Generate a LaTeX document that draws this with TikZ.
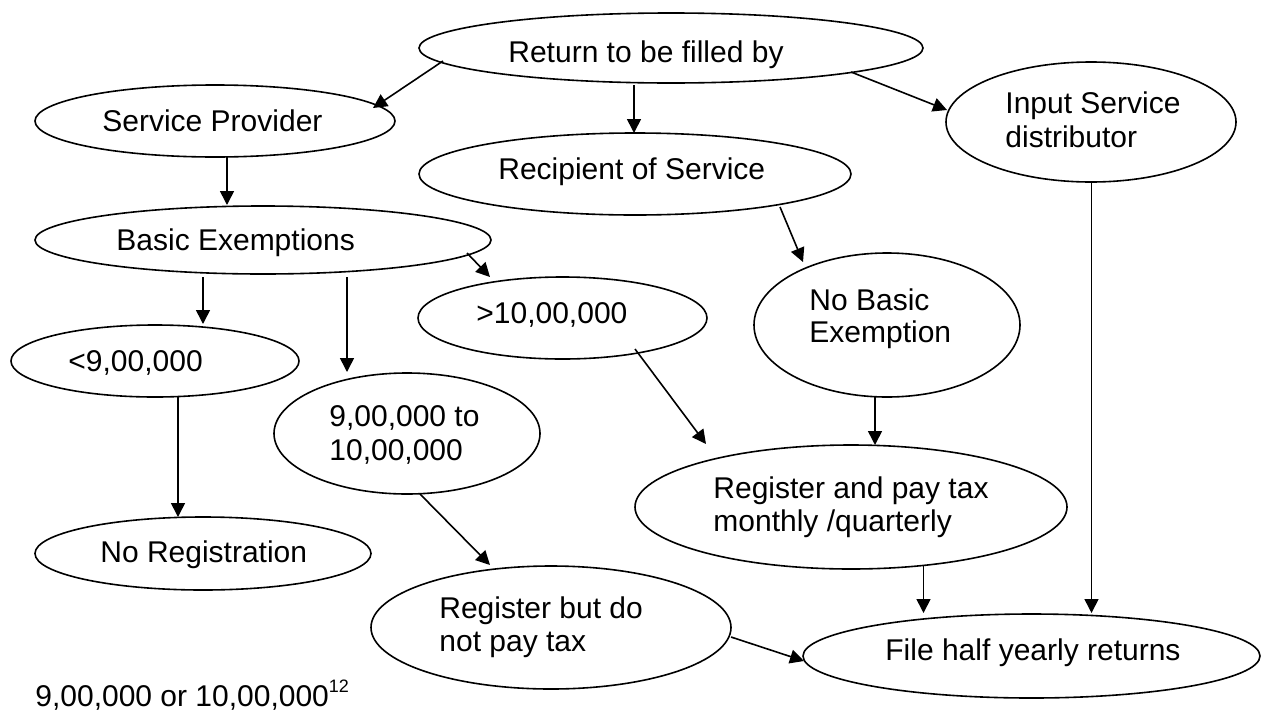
\documentclass[tikz,border=0pt]{standalone}
\usepackage{fontspec}
\setmainfont{Liberation Sans}
\usetikzlibrary{shapes.geometric, arrows.meta}
\begin{document}
\begin{tikzpicture}[x=0.5pt, y=-0.5pt,
  oval/.style={draw, ellipse, line width=0.8pt, inner sep=0pt},
  lbl/.style={anchor=base west, inner sep=0pt, font=\fontsize{15pt}{17pt}\selectfont},
  arr/.style={line width=0.8pt, -{Triangle[length=7pt, width=7pt]}}]
\useasboundingbox (0,0) rectangle (1263,718);

% ellipses
\node[oval, minimum width=252pt, minimum height=35pt] (ret) at (671,48) {};
\node[oval, minimum width=180pt, minimum height=36pt] (sp) at (215,121) {};
\node[oval, minimum width=216pt, minimum height=41pt] (rec) at (635,174) {};
\node[oval, minimum width=145pt, minimum height=60pt] (isd) at (1091,122) {};
\node[oval, minimum width=228pt, minimum height=34pt] (be) at (263,240) {};
\node[oval, minimum width=144pt, minimum height=36pt] (lt9) at (155,361) {};
\node[oval, minimum width=144.5pt, minimum height=41pt] (gt10) at (562.5,318) {};
\node[oval, minimum width=133pt, minimum height=72pt] (nbe) at (887,325) {};
\node[oval, minimum width=133pt, minimum height=60.5pt] (mid) at (407,433.5) {};
\node[oval, minimum width=168pt, minimum height=36.5pt] (nreg) at (203,553.5) {};
\node[oval, minimum width=216pt, minimum height=62pt] (regpay) at (851,507) {};
\node[oval, minimum width=180pt, minimum height=61.5pt] (regbut) at (551,627.5) {};
\node[oval, minimum width=228.5pt, minimum height=42pt] (file) at (1031.5,656) {};

% texts
\node[lbl] (ret-t) at (508,62) {Return to be filled by};
\node[lbl] (sp-t) at (102,131) {Service Provider};
\node[lbl] (rec-t) at (498,179) {Recipient of Service};
\node[lbl] (isd-t1) at (1005,113) {Input Service};
\node[lbl] (isd-t2) at (1005,147) {distributor};
\node[lbl] (be-t) at (116,250) {Basic Exemptions};
\node[lbl] (lt9-t) at (68,371) {<9,00,000};
\node[lbl] (gt10-t) at (476,323) {>10,00,000};
\node[lbl] (nbe-t1) at (809,310) {No Basic};
\node[lbl] (nbe-t2) at (809,342) {Exemption};
\node[lbl] (mid-t1) at (329,426) {9,00,000 to};
\node[lbl] (mid-t2) at (329,460) {10,00,000};
\node[lbl] (nreg-t) at (100,562) {No Registration};
\node[lbl] (regpay-t1) at (713,498) {Register and pay tax};
\node[lbl] (regpay-t2) at (713,531) {monthly /quarterly};
\node[lbl] (regbut-t1) at (439,618) {Register but do};
\node[lbl] (regbut-t2) at (439,651) {not pay tax};
\node[lbl] (file-t) at (885,660) {File half yearly returns};
\node[lbl] (foot) at (35,706) {9,00,000 or 10,00,000\raisebox{0.45em}{\fontsize{9pt}{9pt}\selectfont 12}};

% connector end points
\coordinate (ret-sp-a) at (443,61);   \coordinate (ret-sp-b) at (373,108);
\coordinate (ret-rec-a) at (634,85);  \coordinate (ret-rec-b) at (634,133);
\coordinate (ret-isd-a) at (851,72);  \coordinate (ret-isd-b) at (947,110);
\coordinate (sp-be-a) at (227,157);   \coordinate (sp-be-b) at (227,205);
\coordinate (be-lt9-a) at (203,277);  \coordinate (be-lt9-b) at (203,324);
\coordinate (be-mid-a) at (347,277);  \coordinate (be-mid-b) at (347,372);
\coordinate (be-gt10-a) at (467,253); \coordinate (be-gt10-b) at (490,277);
\coordinate (rec-nbe-a) at (780,207); \coordinate (rec-nbe-b) at (803,262);
\coordinate (lt9-nreg-a) at (178,397); \coordinate (lt9-nreg-b) at (178,517);
\coordinate (gt10-rp-a) at (635,349); \coordinate (gt10-rp-b) at (706,444);
\coordinate (nbe-rp-a) at (875,397);  \coordinate (nbe-rp-b) at (875,445);
\coordinate (mid-rb-a) at (420,494);  \coordinate (mid-rb-b) at (490,565);
\coordinate (rp-file-a) at (923.5,566); \coordinate (rp-file-b) at (923.5,613);
\coordinate (isd-file-a) at (1091.5,182); \coordinate (isd-file-b) at (1091.5,613);
\coordinate (rb-file-a) at (731,637); \coordinate (rb-file-b) at (804,661);

% connectors
\draw[arr] (ret-sp-a) -- (ret-sp-b);
\draw[arr] (ret-rec-a) -- (ret-rec-b);
\draw[arr] (ret-isd-a) -- (ret-isd-b);
\draw[arr] (sp-be-a) -- (sp-be-b);
\draw[arr] (be-lt9-a) -- (be-lt9-b);
\draw[arr] (be-mid-a) -- (be-mid-b);
\draw[arr] (be-gt10-a) -- (be-gt10-b);
\draw[arr] (rec-nbe-a) -- (rec-nbe-b);
\draw[arr] (lt9-nreg-a) -- (lt9-nreg-b);
\draw[arr] (gt10-rp-a) -- (gt10-rp-b);
\draw[arr] (nbe-rp-a) -- (nbe-rp-b);
\draw[arr] (mid-rb-a) -- (mid-rb-b);
\draw[arr] (rp-file-a) -- (rp-file-b);
\draw[arr] (isd-file-a) -- (isd-file-b);
\draw[arr] (rb-file-a) -- (rb-file-b);
\end{tikzpicture}
\end{document}
